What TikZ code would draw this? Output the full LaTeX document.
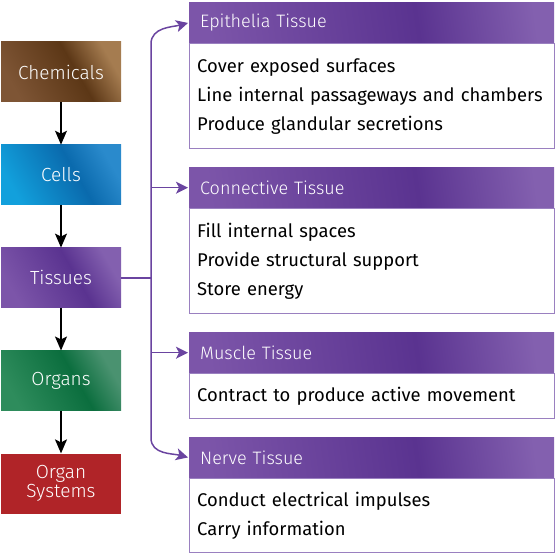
\documentclass[tikz,border=0pt]{standalone}
\usepackage{fontspec}
\setmainfont{Fira Sans Light}
\newfontfamily\bodyfont{Fira Sans}
\usetikzlibrary{arrows.meta,positioning}
\definecolor{chemA}{HTML}{7E5535}
\definecolor{chemB}{HTML}{5C3716}
\definecolor{chemC}{HTML}{A57C50}
\definecolor{cellA}{HTML}{12A0DC}
\definecolor{cellB}{HTML}{0A6AAD}
\definecolor{cellC}{HTML}{2A8ACC}
\definecolor{tisA}{HTML}{7C55A9}
\definecolor{tisB}{HTML}{5A3390}
\definecolor{tisC}{HTML}{8360AF}
\definecolor{orgA}{HTML}{2E8C5C}
\definecolor{orgB}{HTML}{0B6E3E}
\definecolor{orgC}{HTML}{4A9270}
\definecolor{sysred}{HTML}{B02428}
\definecolor{edge}{HTML}{9A80C0}
\definecolor{branch}{HTML}{6A44A0}
\colorlet{shA}{tisA}\colorlet{shB}{tisB}\colorlet{shC}{tisC}
\pgfdeclarehorizontalshading[shA,shB,shC]{glow}{100bp}{color(0bp)=(shA); color(25bp)=(shA);
    color(57bp)=(shB); color(75bp)=(shC); color(100bp)=(shC)}
\tikzset{
  glowing/.code args={#1/#2/#3}{\colorlet{shA}{#1}\colorlet{shB}{#2}\colorlet{shC}{#3}},
  stage/.style={minimum width=120pt, minimum height=60pt, inner sep=0pt,
    text=white, align=center, font=\fontsize{19}{19}\selectfont},
  down/.style={-{Stealth[length=14pt,width=12pt,inset=3pt]}, line width=1.5pt},
  link/.style={line width=1.5pt, draw=branch},
  tip/.style={-{Stealth[length=12pt,width=12pt,inset=3pt]}, shorten >=1pt},
  head/.style={anchor=north west, minimum width=365pt, minimum height=41pt,
    inner xsep=11pt, text=white, text width=343pt, align=left,
    glowing=tisA/tisB/tisC, shading=glow, shading angle=8,
    font=\fontsize{18}{18}\selectfont},
  body/.style={below=0pt of #1, draw=edge, line width=1pt, fill=white,
    minimum width=365pt, inner xsep=8pt, text width=349pt, align=left,
    font=\bodyfont\fontsize{18.4}{29}\selectfont}
}
% header and list of one tissue
\newcommand{\tissue}[5]{\node[head] (#1head) at (189,#2) {#3};
                        \node[body=#1head, minimum height=#4] (#1body) {#5};}

\begin{document}
\begin{tikzpicture}[x=1pt, y=1pt]
    \useasboundingbox (0,0) rectangle (557,-553);
    % levels of organization
    \node[stage, glowing=chemA/chemB/chemC, shading=glow, shading angle=30] (chem) at (61,-72) {Chemicals};
    \node[stage, below=42.5pt of chem, glowing=cellA/cellB/cellC, shading=glow, shading angle=30] (cells) {Cells};
    \node[stage, below=42.5pt of cells, glowing=tisA/tisB/tisC, shading=glow, shading angle=30] (tis) {Tissues};
    \node[stage, below=42.5pt of tis, glowing=orgA/orgB/orgC, shading=glow, shading angle=30] (org) {Organs};
    \node[stage, below=42.5pt of org, fill=sysred] (sys) {Organ\\Systems};
    \foreach \a/\b in {chem/cells, cells/tis, tis/org, org/sys}
        \draw[down] (\a) -- (\b);
    % the four tissue types
    \tissue{epi}{-2}{Epithelia Tissue}{105pt}{Cover exposed surfaces\\Line internal passageways and chambers\\Produce glandular secretions}
    \tissue{con}{-167}{Connective Tissue}{105pt}{Fill internal spaces\\Provide structural support\\Store energy}
    \tissue{mus}{-332}{Muscle Tissue}{45pt}{Contract to produce active movement}
    \tissue{ner}{-437}{Nerve Tissue}{74pt}{Conduct electrical impulses\\Carry information}
    % branching connectors
    \coordinate (trunktop) at (151,-44);
    \coordinate (trunkbot) at (151,-438);
    \draw[link] (tis.east) -- (tis.east -| trunktop);
    \draw[link, {Stealth[length=12pt,width=12pt,inset=3pt]}-{Stealth[length=12pt,width=12pt,inset=3pt]}, shorten <=1pt, shorten >=1pt]
        (epihead.west) to[out=195, in=90] (trunktop) -- (trunkbot) to[out=-90, in=165] (nerhead.west);
    \draw[link, tip] (conhead.west -| trunktop) -- (conhead.west);
    \draw[link, tip] (mushead.west -| trunktop) -- (mushead.west);
\end{tikzpicture}
\end{document}
